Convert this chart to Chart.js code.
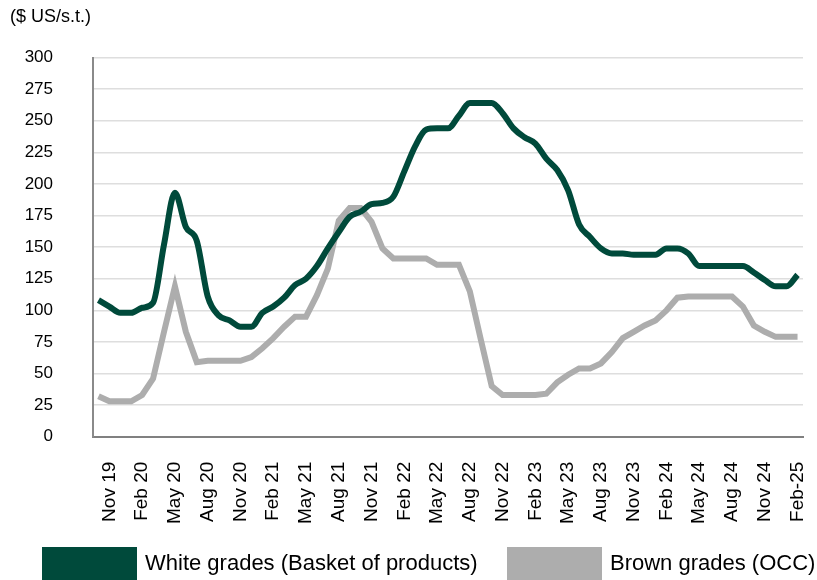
<!DOCTYPE html>
<html>
<head>
<meta charset="utf-8">
<script src="https://cdn.jsdelivr.net/npm/chart.js@4"></script>
<style>
  html, body { margin: 0; padding: 0; background: #fff; overflow: hidden; }
  #wrap { position: relative; width: 817px; height: 580px; }
  #legend { position: absolute; left: 0; top: 547px; width: 817px; height: 33px;
            font-family: 'Liberation Sans', Arial, sans-serif; font-size: 22px; color: #000; }
  .sw { position: absolute; top: 0; width: 95px; height: 33px; }
  .lb { position: absolute; top: 3px; line-height: 26px; white-space: nowrap; }
</style>
</head>
<body>
<div id="wrap">
  <canvas id="chart" width="817" height="580"></canvas>
  <div id="legend"></div>
</div>
<script>
// monthly, Oct 19 .. Feb 25 (only every 3rd month gets a tick label)
const months = [
  'Oct 19', 'Nov 19', 'Dec 19',
  'Jan 20', 'Feb 20', 'Mar 20', 'Apr 20', 'May 20', 'Jun 20', 'Jul 20', 'Aug 20', 'Sep 20', 'Oct 20', 'Nov 20', 'Dec 20',
  'Jan 21', 'Feb 21', 'Mar 21', 'Apr 21', 'May 21', 'Jun 21', 'Jul 21', 'Aug 21', 'Sep 21', 'Oct 21', 'Nov 21', 'Dec 21',
  'Jan 22', 'Feb 22', 'Mar 22', 'Apr 22', 'May 22', 'Jun 22', 'Jul 22', 'Aug 22', 'Sep 22', 'Oct 22', 'Nov 22', 'Dec 22',
  'Jan 23', 'Feb 23', 'Mar 23', 'Apr 23', 'May 23', 'Jun 23', 'Jul 23', 'Aug 23', 'Sep 23', 'Oct 23', 'Nov 23', 'Dec 23',
  'Jan 24', 'Feb 24', 'Mar 24', 'Apr 24', 'May 24', 'Jun 24', 'Jul 24', 'Aug 24', 'Sep 24', 'Oct 24', 'Nov 24', 'Dec 24',
  'Jan 25', 'Feb-25'
];

const whiteGrades = [
  108, 103, 98,
  98, 102, 106, 152, 193, 166, 155, 111, 96, 92, 87, 87,
  98, 103, 110, 120, 125, 135, 149, 162, 174, 178, 184, 185,
  190, 210, 230, 243, 244, 244, 254, 264, 264, 264, 256, 244,
  237, 232, 220, 211, 195, 168, 158, 149, 145, 145, 144, 144,
  144, 149, 149, 145, 135, 135, 135, 135, 135, 130, 124, 119,
  119, 128
];

const brownGrades = [
  32, 28, 28,
  28, 33, 46, 83, 119, 83, 59, 60, 60, 60, 60, 63,
  70, 78, 87, 95, 95, 112, 133, 171, 181, 181, 170, 149,
  141, 141, 141, 141, 136, 136, 136, 115, 77, 40, 33, 33,
  33, 33, 34, 43, 49, 54, 54, 58, 67, 78, 83, 88,
  92, 100, 110, 111, 111, 111, 111, 111, 103, 88, 83, 79,
  79, 79
];

const GREEN = '#004a3b';
const GREY = '#adadad';
const FONT = 'Liberation Sans, Arial, sans-serif';

const chart = new Chart(document.getElementById('chart'), {
  type: 'line',
  data: {
    labels: months,
    datasets: [
      {
        label: 'White grades (Basket of products)',
        data: whiteGrades,
        borderColor: GREEN,
        backgroundColor: GREEN,
        borderWidth: 6,
        pointRadius: 0,
        tension: 0.4,
        cubicInterpolationMode: 'monotone',
        fill: false
      },
      {
        label: 'Brown grades (OCC)',
        data: brownGrades,
        borderColor: GREY,
        backgroundColor: GREY,
        borderWidth: 6,
        pointRadius: 0,
        tension: 0,
        fill: false
      }
    ]
  },
  options: {
    responsive: false,
    animation: false,
    layout: { padding: { left: 10, right: 14, top: 0, bottom: 31 } },
    plugins: {
      title: {
        display: true,
        text: '($ US/s.t.)',
        align: 'start',
        color: '#000',
        font: { family: FONT, size: 18, weight: 'normal' },
        padding: { top: 6, bottom: 30 }
      },
      legend: { display: false },
      tooltip: { enabled: false }
    },
    scales: {
      x: {
        offset: true,
        // rotated labels would otherwise pull the plot in on the right
        afterFit: function (scale) { scale.paddingLeft = 0; scale.paddingRight = 0; },
        grid: { display: false, drawTicks: false },
        border: { color: '#808080', width: 2 },
        ticks: {
          autoSkip: false,
          maxRotation: 90,
          minRotation: 90,
          padding: 25,
          color: '#000',
          font: { family: FONT, size: 19 },
          callback: function (value, index) {
            return (index - 1) % 3 === 0 ? months[index] : '';
          }
        }
      },
      y: {
        min: 0,
        max: 300,
        afterFit: function (scale) { scale.width = 83; },
        grid: { color: '#dedede', lineWidth: 1.5, drawTicks: false },
        border: { color: '#8a8a8a', width: 2 },
        ticks: {
          stepSize: 25,
          padding: 40,
          color: '#000',
          font: { family: FONT, size: 17 }
        }
      }
    }
  }
});

// legend as plain html, laid out like the original (boxes run off the bottom edge)
const legendPos = [{ box: 42, text: 145 }, { box: 507, text: 610 }];
const legend = document.getElementById('legend');
chart.data.datasets.forEach((ds, i) => {
  const sw = document.createElement('div');
  sw.className = 'sw';
  sw.style.left = legendPos[i].box + 'px';
  sw.style.background = ds.borderColor;
  const lb = document.createElement('div');
  lb.className = 'lb';
  lb.style.left = legendPos[i].text + 'px';
  lb.textContent = ds.label;
  legend.appendChild(sw);
  legend.appendChild(lb);
});
</script>
</body>
</html>
